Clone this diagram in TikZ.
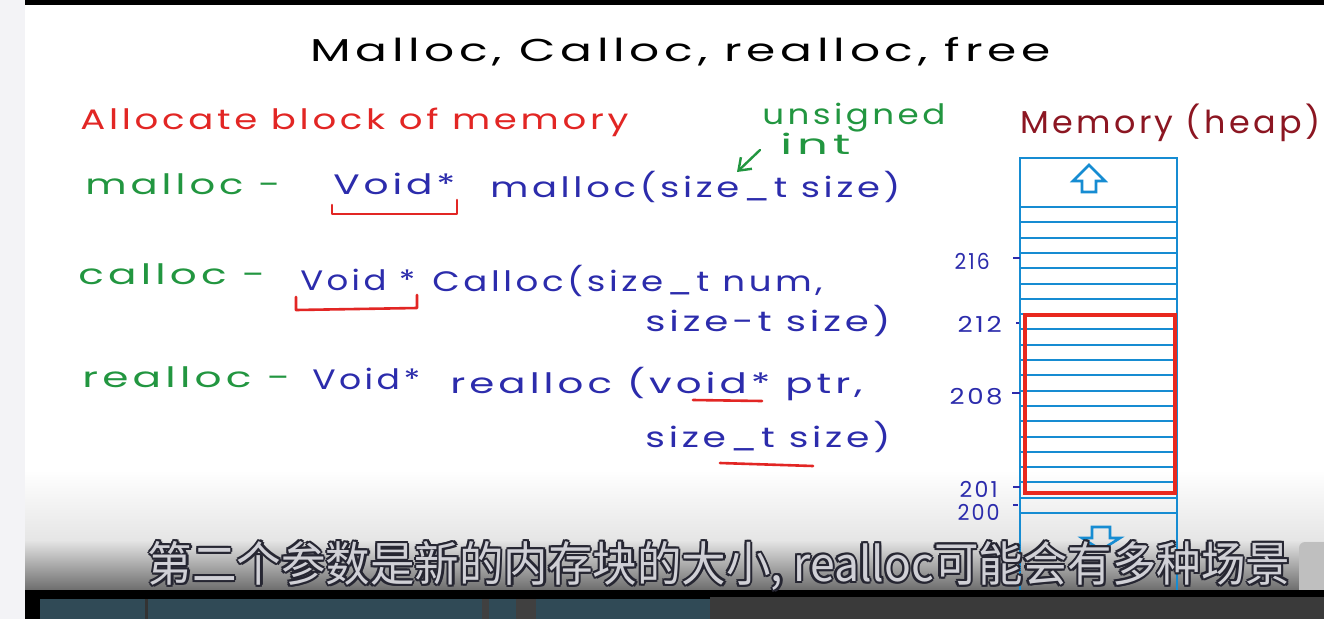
\documentclass[tikz,border=0pt]{standalone}
\usepackage{fontspec}
\usepackage{graphicx}
\usetikzlibrary{arrows.meta}
\newfontfamily\handfont[LetterSpace=10]{Poppins}
\newfontfamily\cjkfont{Noto Sans CJK SC}
\definecolor{handred}{RGB}{226,38,36}
\definecolor{handgreen}{RGB}{34,150,64}
\definecolor{handblue}{RGB}{44,44,172}
\definecolor{heapred}{RGB}{140,22,34}
\definecolor{cellblue}{RGB}{22,140,210}
\definecolor{blockred}{RGB}{232,40,30}
\definecolor{subfill}{RGB}{208,208,214}
\definecolor{subedge}{RGB}{38,38,50}
\definecolor{barslate}{RGB}{48,74,86}
\definecolor{bardark}{RGB}{58,58,58}
\definecolor{sidegray}{RGB}{243,243,246}
\newlength\pxu
\setlength\pxu{0.02cm}
% fit a text to a width in pixels, keep its height
\newcommand\hw[2]{\resizebox{#1\pxu}{\height}{#2}}
% light text with a dark rim (subtitle)
\newcommand\ringed[1]{%
  \makebox[0pt][l]{\color{subedge}%
    \foreach \ox/\oy in {-1.3/0,1.3/0,0/-1.3,0/1.3,-.9/-.9,.9/.9,-.9/.9,.9/-.9}{%
      \makebox[0pt][l]{\hspace*{\ox pt}\raisebox{\oy pt}{#1}}}}%
  {\color{subfill}#1}}
\tikzset{
  hand/.style={anchor=base west,inner sep=0pt,font=\handfont\fontsize{16}{18}\selectfont},
  red hand/.style={hand,text=handred},
  green hand/.style={hand,text=handgreen},
  blue hand/.style={hand,text=handblue},
  addr/.style={anchor=base east,inner sep=0pt,text=handblue,font=\handfont\fontsize{12.5}{14}\selectfont},
  cell line/.style={cellblue,line width=2\pxu},
  addr tick/.style={handblue,line width=2\pxu},
  pen mark/.style={handred,line width=2.6\pxu,line cap=round,line join=round},
  block arrow/.style={cellblue,line width=2.6\pxu,line join=miter},
  note arrow/.style={handgreen,line width=2.4\pxu,line cap=round,-{Straight Barb[length=2.2mm,width=3.2mm]}},
}
\begin{document}
\begin{tikzpicture}[x=0.02cm,y=-0.02cm]
  \useasboundingbox (0,0) rectangle (1324,619);
  % video frame
  \fill[white] (0,0) rectangle (1324,619);
  \fill[sidegray] (0,0) rectangle (25,619);
  \fill[black] (25,0) rectangle (1324,5);
  \shade[top color=white,bottom color=black!10] (25,470) rectangle (1324,540);
  \shade[top color=black!10,bottom color=black!58] (25,540) rectangle (1324,591);

  % title and notes
  \node[hand,text=black,font=\handfont\fontsize{18}{20}\selectfont] (title) at (310,61) {\hw{740}{Malloc, Calloc, realloc, free}};
  \node[red hand] (allocnote) at (80,129) {\hw{548}{Allocate block of memory}};
  \node[green hand] (unsignednote) at (762,124) {\hw{183}{unsigned}};
  \node[green hand] (intnote) at (780,154) {\hw{70}{int}};

  % malloc
  \node[green hand] (mallocname) at (85,194) {\hw{195}{malloc -}};
  \node[blue hand] (mallocret) at (333,194) {\hw{122}{Void*}};
  \node[blue hand] (mallocsig) at (490,197) {\hw{410}{malloc(size\_t size)}};

  % calloc
  \node[green hand] (callocname) at (78,284) {\hw{187}{calloc -}};
  \node[blue hand] (callocret) at (300,290) {\hw{115}{Void *}};
  \node[blue hand] (callocsig) at (432,291) {\hw{390}{Calloc(size\_t num,}};
  \node[blue hand] (callocsize) at (645,331) {\hw{245}{size-t size)}};

  % realloc
  \node[green hand] (reallocname) at (82,387) {\hw{208}{realloc -}};
  \node[blue hand] (reallocret) at (312,389) {\hw{108}{Void*}};
  \node[blue hand] (reallocsig) at (450,393) {\hw{412}{realloc (void* ptr,}};
  \node[blue hand] (reallocsize) at (645,447) {\hw{245}{size\_t size)}};

  % red pen marks
  \draw[pen mark] (332,205) -- (332,214) -- (457,214) -- (457,200);
  \draw[pen mark] (296,297) -- (296,310) -- (417,308) -- (417,295);
  \draw[pen mark] (693,400) -- (762,401);
  \draw[pen mark] (720,463) -- (813,466);
  \coordinate (arrowtail) at (760,150);
  \coordinate (arrowtip) at (737,172);
  \draw[note arrow] (arrowtail) -- (arrowtip);

  % heap
  \node[hand,text=heapred,font=\handfont\fontsize{18}{20}\selectfont] (heaptitle) at (1020,133) {\hw{300}{Memory (heap)}};
  \draw[cell line] (1020,592) -- (1020,158) -- (1177,158) -- (1177,592);
  \foreach \k in {0,...,20}
    \draw[cell line] (1020,{207+15.3*\k}) -- (1177,{207+15.3*\k});
  \draw[blockred,line width=4\pxu] (1025,315) rectangle (1175,493);
  \draw[block arrow] (1089,165) -- (1105,181) -- (1096,181) -- (1096,192) -- (1082,192) -- (1082,181) -- (1073,181) -- cycle;
  \draw[block arrow] (1101,550) -- (1120,538) -- (1110,538) -- (1110,527) -- (1092,527) -- (1092,538) -- (1082,538) -- cycle;

  % addresses
  \node[addr] (a216) at (990,269) {\hw{35}{216}};
  \node[addr] (a212) at (1002,332) {\hw{44}{212}};
  \node[addr] (a208) at (1003,404) {\hw{53}{208}};
  \node[addr] (a201) at (998,497) {\hw{38}{201}};
  \node[addr] (a200) at (1000,520) {\hw{42}{200}};
  \draw[addr tick] (1013,258) -- (1020,258);
  \draw[addr tick] (1016,323) -- (1019,323);
  \draw[addr tick] (1012,393) -- (1020,393);
  \draw[addr tick] (1013,487) -- (1020,487);
  \draw[addr tick] (1013,505) -- (1018,505);

  % player bar
  \fill[black!25,rounded corners=6\pxu] (1324,542) -- (1299,542) -- (1299,596) -- (1324,596);
  \fill[black] (25,590) rectangle (1324,619);
  \fill[barslate] (40,599) rectangle (710,619);
  \fill[bardark] (710,597) rectangle (1324,619);
  \fill[black!80] (145,599) rectangle (148,619);
  \fill[black!75] (482,599) rectangle (489,619);
  \fill[black!75] (516,599) rectangle (536,619);

  % subtitle
  \node[inner sep=0pt,font=\cjkfont\fontsize{27}{30}\selectfont] (subtitle) at (719,566)
    {\hw{1142}{\ringed{第二个参数是新的内存块的大小, realloc可能会有多种场景}}};
\end{tikzpicture}
\end{document}
